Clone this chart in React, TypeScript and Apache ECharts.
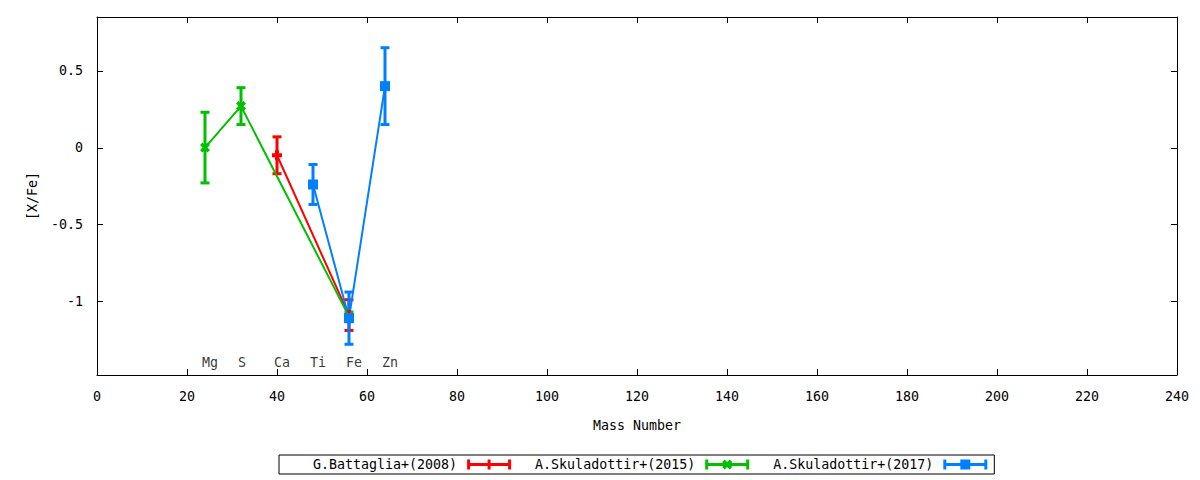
import React, { useEffect, useRef } from "react";
import * as echarts from "echarts";

// Element labels and their mass numbers
const elements = ["Mg", "S", "Ca", "Ti", "Fe", "Zn"];
const massNumbers = [24, 32, 40, 48, 56, 64];
const ELEMENT_LABEL_Y = -1.4;

const seriesNames = ["G.Battaglia+(2008)", "A.Skuladottir+(2015)", "A.Skuladottir+(2017)"];
const seriesColors = ["#ff0000", "#00c000", "#0080ff"];

// G.Battaglia+(2008)
const battagliaMass = [40, 56];
const battagliaValue = [-0.05, -1.09];
const battagliaError = [0.12, 0.1];

// A.Skuladottir+(2015)
const skul15Mass = [24, 32, 56];
const skul15Value = [0.0, 0.27, -1.1];
const skul15Error = [0.23, 0.12, 0.03];

// A.Skuladottir+(2017)
const skul17Mass = [48, 56, 64];
const skul17Value = [-0.24, -1.11, 0.4];
const skul17Error = [0.13, 0.17, 0.25];

const X_MIN = 0;
const X_MAX = 240;
const X_INTERVAL = 20;
const xTickValues = [0, 20, 40, 60, 80, 100, 120, 140, 160, 180, 200, 220, 240];
const Y_MIN = -1.48;
const Y_MAX = 0.85;
const yTickValues = [-1, -0.5, 0, 0.5];

const FONT = "DejaVu Sans Mono";
const TICK_LEN = 6;

const markerSymbols = [
  "path://M0,3 H10 V7 H0 Z M3,0 H7 V10 H3 Z",
  "path://M0,2.5 L2.5,0 L10,7.5 L7.5,10 Z M7.5,0 L10,2.5 L2.5,10 L0,7.5 Z",
  "rect",
];

const legendIconBase = "M0,0 H3 V10 H0 Z M41,0 H44 V10 H41 Z M0,3.5 H44 V6.5 H0 Z ";
const legendIcons = [
  "path://" + legendIconBase + "M20.5,0 H23.5 V10 H20.5 Z",
  "path://" + legendIconBase + "M17,2.5 L19.5,0 L27,7.5 L24.5,10 Z M24.5,0 L27,2.5 L19.5,10 L17,7.5 Z",
  "path://" + legendIconBase + "M17,0 H27 V10 H17 Z",
];

const datasets = [
  { mass: battagliaMass, value: battagliaValue, error: battagliaError },
  { mass: skul15Mass, value: skul15Value, error: skul15Error },
  { mass: skul17Mass, value: skul17Value, error: skul17Error },
];

const crisp = (v: number) => Math.round(v) + 0.5;

function errorBarSeries(idx: number) {
  const d = datasets[idx];
  const color = seriesColors[idx];
  return {
    type: "custom",
    name: seriesNames[idx] + " err",
    xAxisIndex: 0,
    yAxisIndex: 0,
    silent: true,
    data: d.mass.map((m, i) => [m, d.value[i], d.error[i]]),
    encode: { x: 0, y: 1 },
    renderItem: (params: any, api: any) => {
      const x = api.value(0);
      const y = api.value(1);
      const e = api.value(2);
      const top = api.coord([x, y + e]);
      const bot = api.coord([x, y - e]);
      const cap = 4.5;
      const style = { stroke: color, lineWidth: 3, fill: "none" };
      return {
        type: "group",
        children: [
          { type: "line", shape: { x1: top[0], y1: top[1], x2: bot[0], y2: bot[1] }, style },
          { type: "line", shape: { x1: top[0] - cap, y1: top[1], x2: top[0] + cap, y2: top[1] }, style },
          { type: "line", shape: { x1: bot[0] - cap, y1: bot[1], x2: bot[0] + cap, y2: bot[1] }, style },
        ],
      };
    },
  };
}

function lineSeries(idx: number) {
  const d = datasets[idx];
  const color = seriesColors[idx];
  return {
    type: "line",
    name: seriesNames[idx],
    xAxisIndex: 0,
    yAxisIndex: 0,
    data: d.mass.map((m, i) => [m, d.value[i]]),
    symbol: markerSymbols[idx],
    symbolSize: 10,
    showSymbol: true,
    showAllSymbol: true,
    color,
    itemStyle: { color, borderWidth: 0 },
    lineStyle: { color, width: 2 },
    silent: true,
  };
}

const tickLineStyle = { stroke: "#000", lineWidth: 1 };

// Inward ticks on bottom and top edges (mirrored), from the x tick values
const xTickSeries = {
  type: "custom",
  name: "x ticks",
  silent: true,
  clip: false,
  xAxisIndex: 0,
  yAxisIndex: 0,
  data: xTickValues.map((v) => [v, Y_MIN]),
  encode: { x: 0, y: 1 },
  renderItem: (params: any, api: any) => {
    const cs = params.coordSys;
    const px = crisp(api.coord([api.value(0), Y_MIN])[0]);
    const yb = cs.y + cs.height;
    const yt = cs.y;
    return {
      type: "group",
      children: [
        { type: "line", shape: { x1: px, y1: yb, x2: px, y2: yb - TICK_LEN }, style: tickLineStyle },
        { type: "line", shape: { x1: px, y1: yt, x2: px, y2: yt + TICK_LEN }, style: tickLineStyle },
      ],
    };
  },
};

// Inward ticks on left and right edges (mirrored), from the y tick values
const yTickSeries = {
  type: "custom",
  name: "y ticks",
  silent: true,
  clip: false,
  xAxisIndex: 0,
  yAxisIndex: 0,
  data: yTickValues.map((v) => [X_MIN, v]),
  encode: { x: 0, y: 1 },
  renderItem: (params: any, api: any) => {
    const cs = params.coordSys;
    const py = crisp(api.coord([X_MIN, api.value(1)])[1]);
    const xl = cs.x;
    const xr = cs.x + cs.width;
    return {
      type: "group",
      children: [
        { type: "line", shape: { x1: xl, y1: py, x2: xl + TICK_LEN, y2: py }, style: tickLineStyle },
        { type: "line", shape: { x1: xr, y1: py, x2: xr - TICK_LEN, y2: py }, style: tickLineStyle },
      ],
    };
  },
};

export default function App() {
  const ref = useRef<HTMLDivElement>(null);

  useEffect(() => {
    if (!ref.current) return;
    const chart = echarts.init(ref.current, undefined, { renderer: "svg" });
    const axisText = { fontFamily: FONT, fontSize: 13.3, color: "#000" };
    const axisLine = { show: true, onZero: false, lineStyle: { color: "#000", width: 1 } };
    const option: any = {
      animation: false,
      backgroundColor: "#fff",
      grid: {
        left: 97,
        right: 23,
        top: 17,
        bottom: 105,
        show: false,
        containLabel: false,
      },
      xAxis: [
        {
          type: "value",
          min: X_MIN,
          max: X_MAX,
          interval: X_INTERVAL,
          position: "bottom",
          name: "Mass Number",
          nameLocation: "middle",
          nameGap: 44,
          nameTextStyle: axisText,
          axisLine,
          axisTick: { show: false },
          axisLabel: { ...axisText, margin: 15 },
          splitLine: { show: false },
        },
        {
          type: "value",
          show: true,
          min: X_MIN,
          max: X_MAX,
          interval: X_INTERVAL,
          position: "top",
          axisLine,
          axisTick: { show: false },
          axisLabel: { show: false },
          splitLine: { show: false },
        },
      ],
      yAxis: [
        {
          type: "value",
          min: Y_MIN,
          max: Y_MAX,
          position: "left",
          name: "[X/Fe]",
          nameLocation: "middle",
          nameRotate: 90,
          nameGap: 58,
          nameTextStyle: axisText,
          axisLine,
          axisTick: { show: false },
          axisLabel: { ...axisText, margin: 14, customValues: yTickValues, formatter: (v: number) => String(v) },
          splitLine: { show: false },
        },
        {
          type: "value",
          show: true,
          min: Y_MIN,
          max: Y_MAX,
          position: "right",
          axisLine,
          axisTick: { show: false },
          axisLabel: { show: false },
          splitLine: { show: false },
        },
      ],
      legend: {
        data: seriesNames.map((n, i) => ({ name: n, icon: legendIcons[i] })),
        left: 279,
        top: 455,
        orient: "horizontal",
        align: "right",
        itemWidth: 44,
        itemHeight: 10,
        itemGap: 24,
        padding: [3, 7, 3, 34],
        borderColor: "#000",
        borderWidth: 1,
        borderRadius: 0,
        selectedMode: false,
        itemStyle: { borderWidth: 0 },
        textStyle: { fontFamily: FONT, fontSize: 13.3, color: "#000", padding: [0, 5, 0, 0] },
      },
      series: [
        xTickSeries,
        yTickSeries,
        errorBarSeries(0),
        lineSeries(0),
        errorBarSeries(1),
        lineSeries(1),
        errorBarSeries(2),
        lineSeries(2),
        {
          type: "scatter",
          name: "elements",
          silent: true,
          xAxisIndex: 1,
          yAxisIndex: 1,
          symbolSize: 0,
          data: massNumbers.map((m) => [m, ELEMENT_LABEL_Y]),
          label: {
            show: true,
            position: "inside",
            align: "left",
            offset: [-3, 0],
            fontFamily: FONT,
            fontSize: 13.3,
            color: "#000",
            formatter: (p: any) => elements[p.dataIndex],
          },
        },
      ],
    };
    chart.setOption(option);
    return () => chart.dispose();
  }, []);

  return (
    <div
      ref={ref}
      style={{ position: "fixed", left: 0, top: 0, width: 1200, height: 480, background: "#fff" }}
    />
  );
}
